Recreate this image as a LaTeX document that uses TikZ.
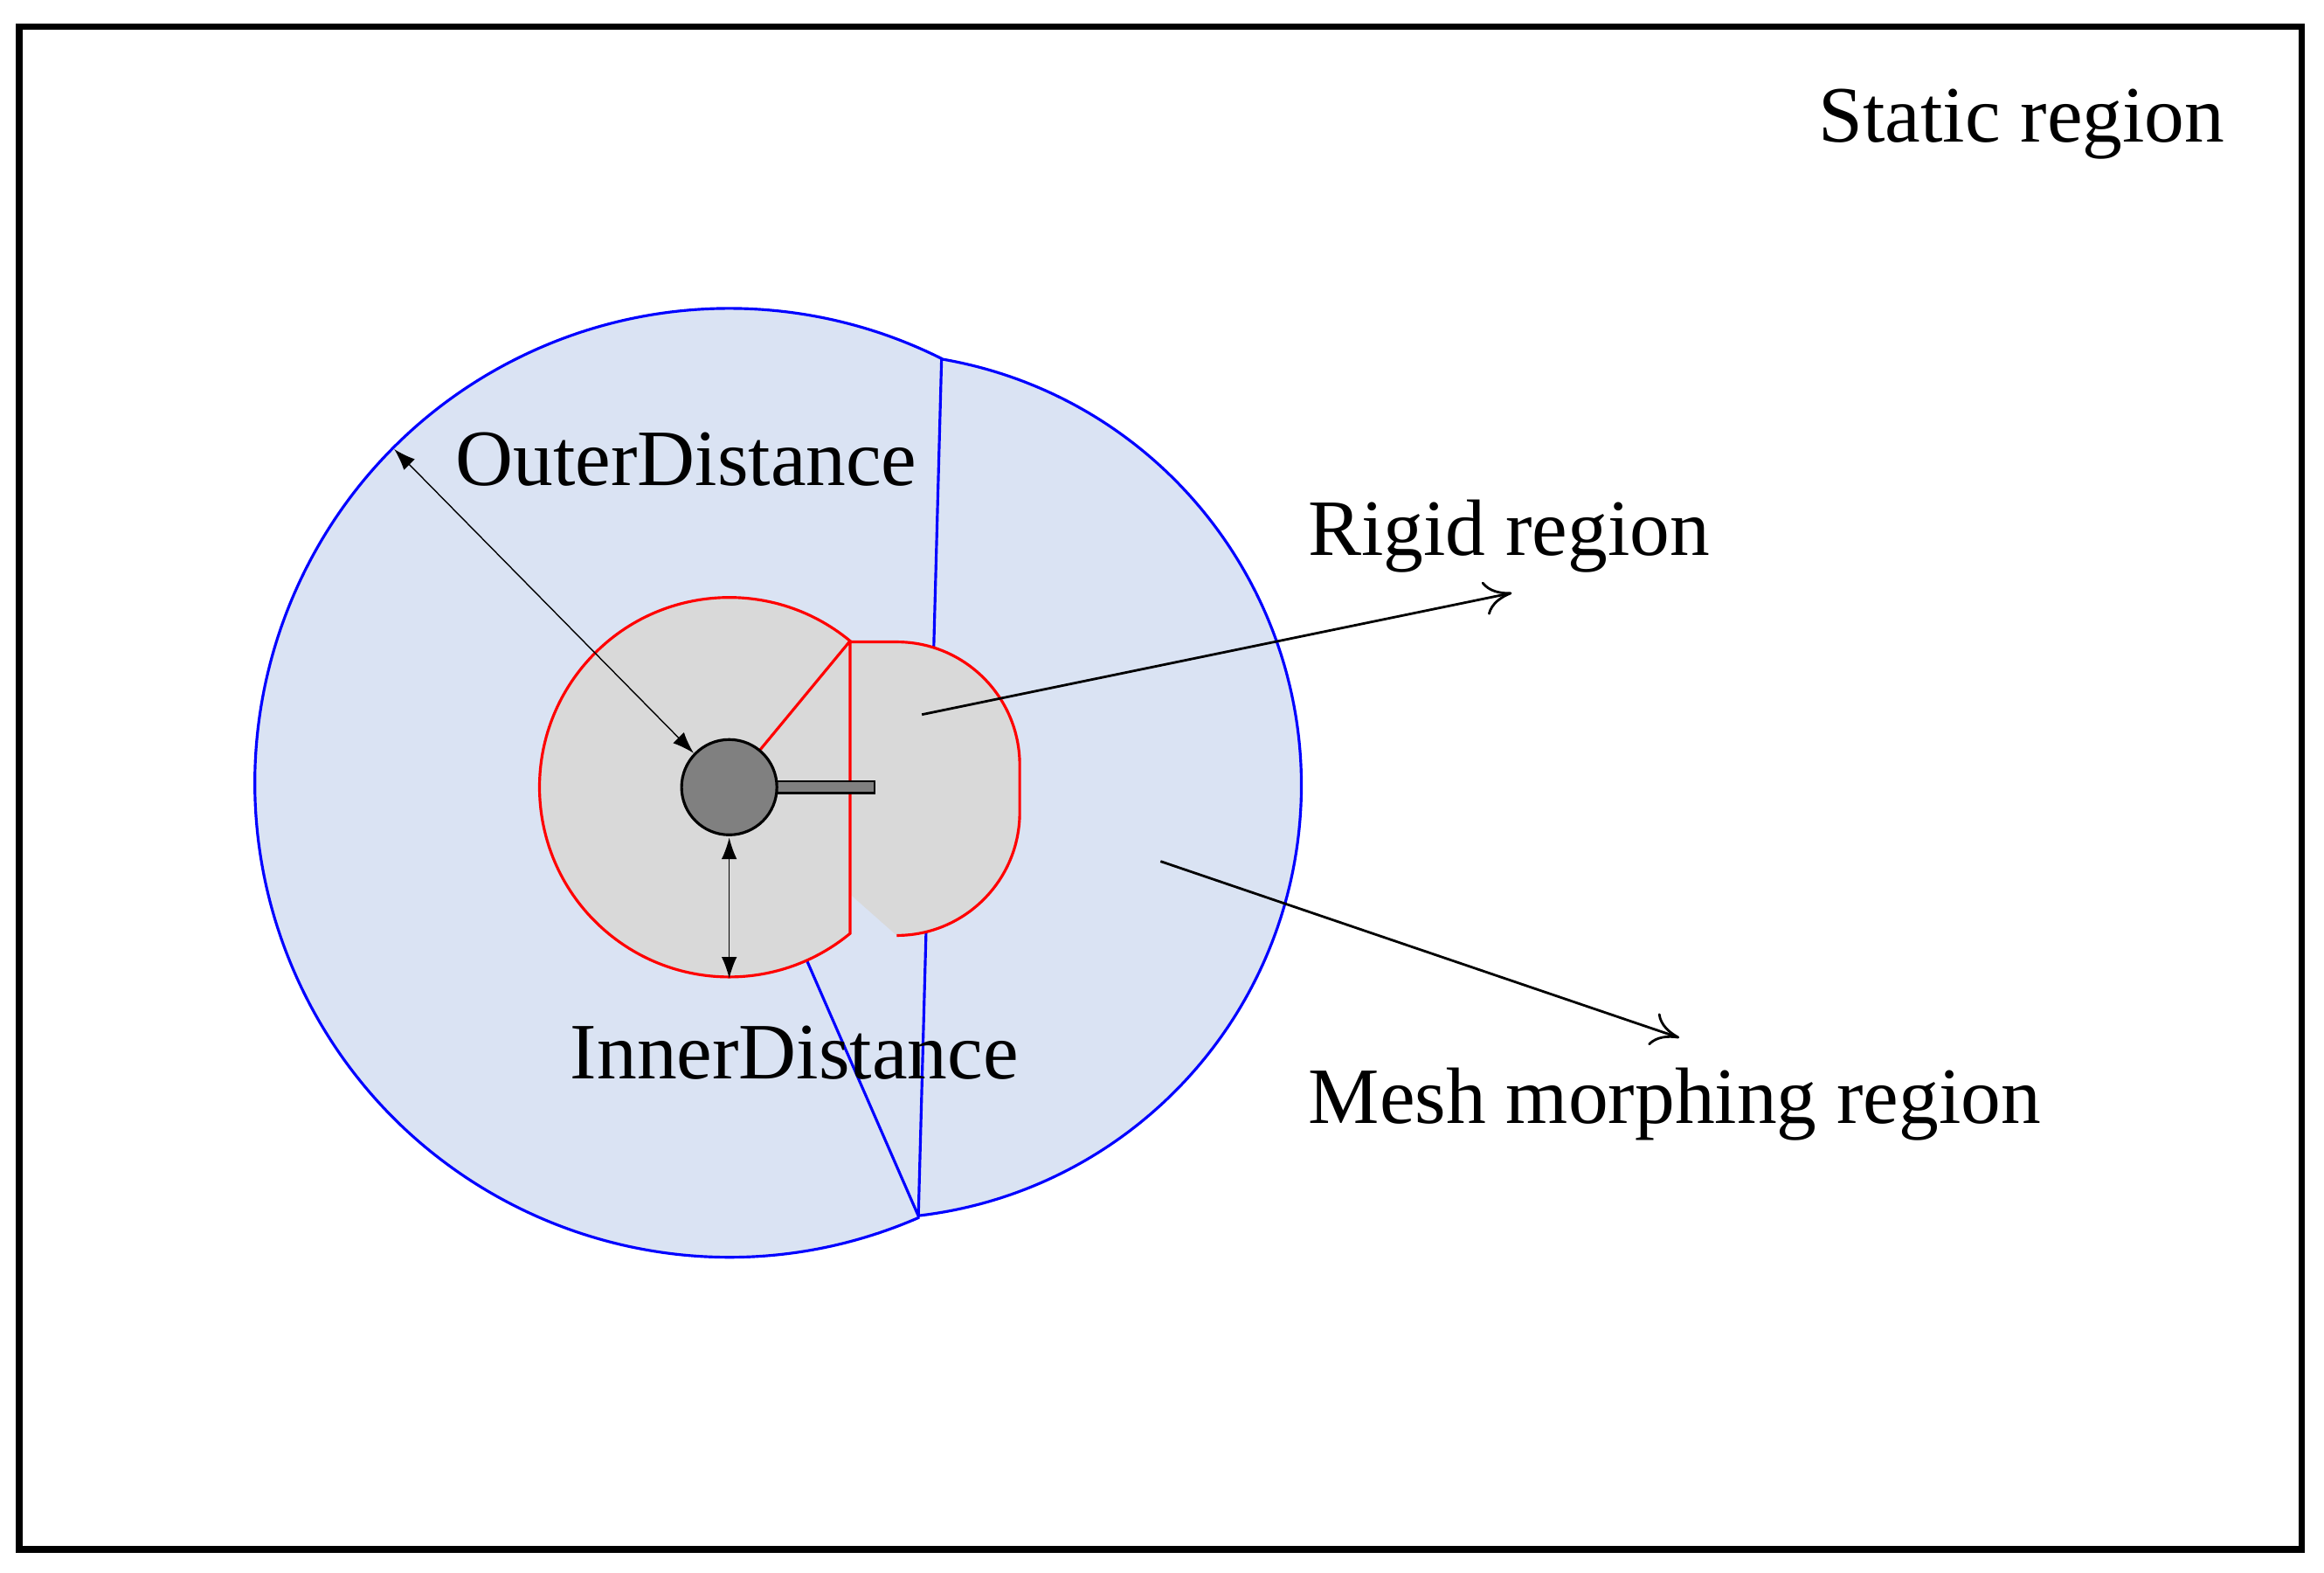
\documentclass[tikz,border=0pt]{standalone}
\usepackage{fontspec}
\setmainfont{Liberation Serif}
\usetikzlibrary{arrows.meta}
\definecolor{meshfill}{HTML}{DAE3F3}
\definecolor{rigidfill}{HTML}{D9D9D9}
\begin{document}
\begin{tikzpicture}[x=0.01696cm,y=0.01696cm,
  lbl/.style={font=\fontsize{26}{30}\selectfont,inner sep=0pt},
  dim/.style={thin,{Latex[length=7pt,width=5pt]}-{Latex[length=7pt,width=5pt]}},
  pointer/.style={line width=0.8pt,-{To[length=9pt,width=11pt]}}]
\useasboundingbox (0,0) rectangle (1568,1061);
\draw[line width=2.2pt] (13,16) rectangle (1553,1043);
% mesh morphing region
\draw[blue,line width=0.9pt,fill=meshfill]
  (586,531) ++(80.3:292) arc[start angle=80.3,end angle=-83.4,radius=292]
  -- (492,533) ++(-66.5:320) arc[start angle=-66.5,end angle=-296.6,radius=320] -- cycle;
% rigid region
\draw[red,line width=0.9pt,fill=rigidfill]
  (605,430) arc[start angle=-90,end angle=0,radius=83] -- (688,545)
  arc[start angle=0,end angle=90,radius=83] -- (573,628)
  -- (492,530) ++(50.4:128) arc[start angle=50.4,end angle=309.6,radius=128] -- cycle;
% body
\draw[line width=0.8pt,fill=gray] (524,526) rectangle (590,534);
\node[circle,draw,line width=0.9pt,fill=gray,minimum size=64\pgflinewidth/0.9*0.01696/0.01696,inner sep=0pt,minimum size=1.09cm] (hub) at (492,530) {};
\coordinate (o1) at (266,758);
\coordinate (o2) at (468,553);
\coordinate (i1) at (492,496);
\coordinate (i2) at (492,401);
\draw[dim] (o1) -- (o2);
\draw[dim] (i1) -- (i2);
\coordinate (r1) at (622,579);
\coordinate (r2) at (1020,661);
\coordinate (m1) at (783,480);
\coordinate (m2) at (1133,361);
\draw[pointer] (r1) -- (r2);
\draw[pointer] (m1) -- (m2);
\node[lbl] (outer) at (463,751) {OuterDistance};
\node[lbl] (inner) at (536,351) {InnerDistance};
\node[lbl] (rigid) at (1018,699) {Rigid region};
\node[lbl] (mesh) at (1130,316) {Mesh morphing region};
\node[lbl] (static) at (1364,977) {Static region};
\end{tikzpicture}
\end{document}
